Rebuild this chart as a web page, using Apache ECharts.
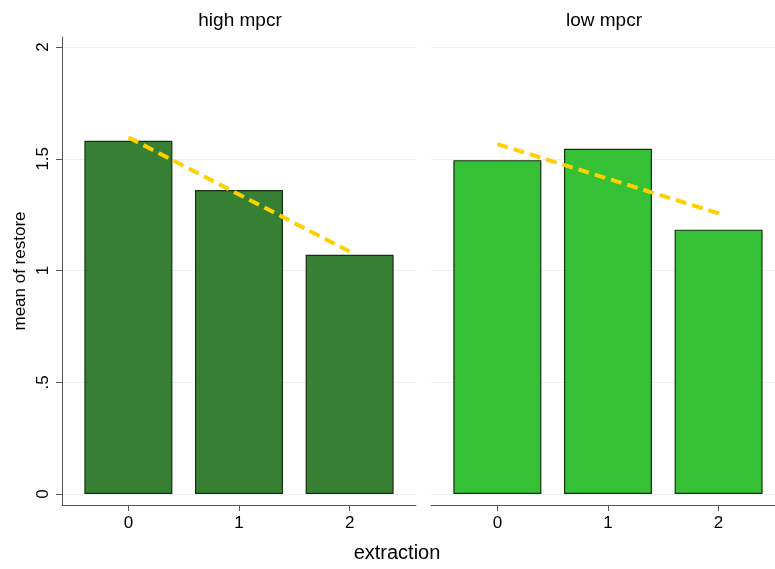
<!DOCTYPE html>
<html>
<head>
<meta charset="utf-8">
<script src="https://cdn.jsdelivr.net/npm/echarts@6/dist/echarts.min.js"></script>
<style>
  html, body { margin: 0; padding: 0; background: #fff; }
  #chart { width: 775px; height: 569px; }
</style>
</head>
<body>
<div id="chart"></div>
<script>
// panels and data (mean of restore by extraction)
const panels = ['high mpcr', 'low mpcr'];
const extraction = [0, 1, 2];
const highMeans = [1.581, 1.360, 1.071];
const lowMeans = [1.494, 1.545, 1.183];
// fitted line end points
const highFit = [1.596, 1.085];
const lowFit = [1.566, 1.256];
const yTicks = [0, 0.5, 1, 1.5, 2];
const yTickLabels = ['0', '.5', '1', '1.5', '2'];

const font = 'Liberation Sans, Arial, Helvetica, sans-serif';
const barColors = ['#367f33', '#35c035'];
const fitColor = '#ffd000';

const chart = echarts.init(document.getElementById('chart'));

const makeY = (gridIndex, showAxis) => ({
  type: 'value',
  gridIndex,
  min: -0.049,
  max: 2.045,
  name: showAxis ? 'mean of restore' : '',
  nameLocation: 'middle',
  nameGap: 33,
  nameTextStyle: { fontFamily: font, fontSize: 17, color: '#000' },
  axisLine: { show: showAxis, onZero: false, lineStyle: { color: '#555', width: 1 } },
  axisTick: { show: showAxis, customValues: yTicks, length: 6, lineStyle: { color: '#555' } },
  axisLabel: {
    show: showAxis,
    customValues: yTicks,
    rotate: 90,
    margin: 10,
    fontFamily: font,
    fontSize: 17,
    color: '#000',
    formatter: (v) => yTickLabels[yTicks.indexOf(Math.round(v * 10) / 10)]
  },
  splitLine: { show: true, lineStyle: { color: '#e9f1f2', width: 1 } }
});

const makeX = (gridIndex, max) => ({
  type: 'value',
  gridIndex,
  min: -0.6,
  max,
  axisLine: { show: true, onZero: false, lineStyle: { color: '#555', width: 1 } },
  axisTick: { show: true, customValues: extraction, length: 6, lineStyle: { color: '#555' } },
  axisLabel: { customValues: extraction, margin: 10, fontFamily: font, fontSize: 17, color: '#000' },
  splitLine: { show: false }
});

const barSeries = (idx, vals) => ({
  type: 'bar',
  xAxisIndex: idx,
  yAxisIndex: idx,
  barWidth: 88,
  data: extraction.map((x, i) => [x, vals[i]]),
  itemStyle: { color: barColors[idx], borderColor: '#15300f', borderWidth: 1.2 },
  z: 2
});

const fitSeries = (idx, fit) => ({
  type: 'line',
  xAxisIndex: idx,
  yAxisIndex: idx,
  data: [[extraction[0], fit[0]], [extraction[2], fit[1]]],
  symbol: 'none',
  lineStyle: { color: fitColor, width: 4, type: [11, 6] },
  z: 3
});

const option = {
  animation: false,
  backgroundColor: '#fff',
  title: [
    { text: panels[0], left: 235, top: 6, textAlign: 'center',
      textStyle: { fontFamily: font, fontSize: 19, fontWeight: 'normal', color: '#000' } },
    { text: panels[1], left: 599, top: 6, textAlign: 'center',
      textStyle: { fontFamily: font, fontSize: 19, fontWeight: 'normal', color: '#000' } },
    { text: 'extraction', left: 392, top: 538, textAlign: 'center',
      textStyle: { fontFamily: font, fontSize: 20, fontWeight: 'normal', color: '#000' } }
  ],
  grid: [
    { left: 62, width: 354, top: 37, bottom: 64 },
    { left: 431, right: 0, top: 37, bottom: 64 }
  ],
  xAxis: [makeX(0, 2.6), makeX(1, 2.51)],
  yAxis: [makeY(0, true), makeY(1, false)],
  series: [
    barSeries(0, highMeans),
    barSeries(1, lowMeans),
    fitSeries(0, highFit),
    fitSeries(1, lowFit)
  ]
};

chart.setOption(option);
</script>
</body>
</html>
